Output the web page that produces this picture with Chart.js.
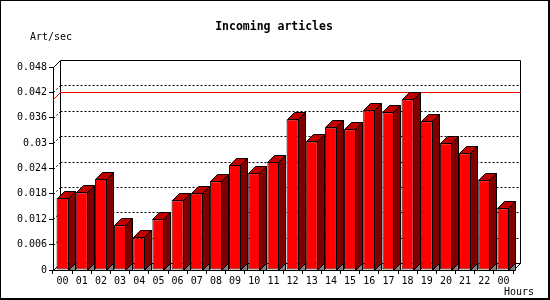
<!DOCTYPE html>
<html>
<head>
<meta charset="utf-8">
<script src="https://cdn.jsdelivr.net/npm/chart.js@4/dist/chart.umd.min.js"></script>
<style>
  body { margin: 0; background: #fff; }
  canvas { display: block; }
</style>
</head>
<body>
<canvas id="articles-chart" width="550" height="300"></canvas>
<script>
const hours = ["00", "01", "02", "03", "04", "05", "06", "07", "08", "09", "10", "11",
    "12", "13", "14", "15", "16", "17", "18", "19", "20", "21", "22", "00"]
const articlesPerSec = [0.0170, 0.0184, 0.0215, 0.0106, 0.0077, 0.0120, 0.0165, 0.0181,
    0.0210, 0.0248, 0.0229, 0.0256, 0.0356, 0.0304, 0.0337, 0.0333,
    0.0378, 0.0373, 0.0404, 0.0352, 0.0300, 0.0276, 0.0212, 0.0146]
const yTickValues = [0, 0.006, 0.012, 0.018, 0.024, 0.03, 0.036, 0.042, 0.048]

const FONT = "'DejaVu Sans Mono', monospace"
const depth = 7

function formatTick(value) {
    return String(parseFloat(value.toFixed(3)))
}

function line(ctx, x1, y1, x2, y2) {
    ctx.beginPath()
    ctx.moveTo(x1, y1)
    ctx.lineTo(x2, y2)
    ctx.stroke()
}

function poly(ctx, pts, fill) {
    ctx.beginPath()
    ctx.moveTo(pts[0][0], pts[0][1])
    for (let i = 1; i < pts.length; i++) ctx.lineTo(pts[i][0], pts[i][1])
    ctx.closePath()
    ctx.fillStyle = fill
    ctx.fill()
    ctx.stroke()
}

// back wall, dashed grid, max line, bar tops/sides, frame and loose labels
const pseudo3d = {
    id: "pseudo3d",
    beforeDraw(chart) {
        const ctx = chart.ctx
        ctx.save()
        ctx.fillStyle = "#fff"
        ctx.fillRect(0, 0, chart.width, chart.height)
        ctx.restore()
    },
    beforeDatasetsDraw(chart) {
        const { ctx, chartArea: area, scales: { y } } = chart
        const left = Math.round(area.left) + 0.5
        const right = Math.round(area.right) + 0.5
        const top = Math.round(area.top) + 0.5
        const bottom = Math.round(area.bottom) + 0.5
        const wl = left + depth, wr = right + depth
        const wt = top - depth, wb = bottom - depth
        ctx.save()
        ctx.lineWidth = 1
        ctx.strokeStyle = "#000"
        // back wall outline
        line(ctx, wl, wt, wr, wt)
        line(ctx, wl, wt, wl, wb)
        line(ctx, wr, wt, wr, wb)
        line(ctx, wl, wb, wr, wb)
        line(ctx, left, top, wl, wt)
        line(ctx, left, bottom, wl, wb)
        line(ctx, right, bottom, wr, wb)
        // dashed grid on the back wall
        ctx.setLineDash([2, 2])
        yTickValues.forEach(v => {
            if (v === 0 || v === yTickValues[yTickValues.length - 1]) return
            const py = Math.round(y.getPixelForValue(v)) + 0.5
            line(ctx, wl, py - depth, wr, py - depth)
            line(ctx, left, py, wl, py - depth)
        })
        ctx.setLineDash([])
        // maximum line
        const peak = Math.max(...articlesPerSec)
        const my = Math.round(y.getPixelForValue(peak)) + 0.5
        ctx.strokeStyle = "#ff0000"
        line(ctx, wl, my - depth, wr, my - depth)
        line(ctx, left, my, wl, my - depth)
        ctx.restore()
    },
    afterDatasetsDraw(chart) {
        const ctx = chart.ctx
        const bars = chart.getDatasetMeta(0).data
        ctx.save()
        ctx.lineWidth = 1
        ctx.strokeStyle = "#000"
        bars.forEach(bar => {
            const L = Math.round(bar.x - bar.width / 2) + 0.5
            const R = Math.round(bar.x + bar.width / 2) - 0.5
            const T = Math.round(bar.y) + 0.5
            const B = Math.round(bar.base) + 0.5
            poly(ctx, [[R, B], [R + depth, B - depth], [R + depth, B]], "#808080")
            poly(ctx, [[L, T], [L + depth, T - depth], [R + depth, T - depth], [R, T]], "#c00000")
            poly(ctx, [[R, T], [R + depth, T - depth], [R + depth, B - depth], [R, B]], "#800000")
        })
        ctx.restore()
    },
    afterDraw(chart) {
        const ctx = chart.ctx
        ctx.save()
        ctx.fillStyle = "#000"
        ctx.textBaseline = "middle"
        ctx.textAlign = "center"
        ctx.font = "bold 11.5px " + FONT
        ctx.fillText("Incoming articles", 274, 27)
        ctx.font = "10px " + FONT
        ctx.textAlign = "left"
        ctx.fillText("Art/sec", 30, 37)
        ctx.textAlign = "right"
        ctx.fillText("Hours", 534, 292)
        // image frame
        ctx.fillRect(0, 0, 550, 1)
        ctx.fillRect(0, 0, 1, 300)
        ctx.fillRect(548, 0, 2, 300)
        ctx.fillRect(0, 298, 550, 2)
        ctx.restore()
    }
}

const chart = new Chart(document.getElementById("articles-chart"), {
    type: "bar",
    data: {
        labels: hours,
        datasets: [{
            label: "Art/sec",
            data: articlesPerSec,
            backgroundColor: "#ff0000",
            borderColor: "#000",
            borderWidth: 1,
            borderSkipped: false,
            barPercentage: 0.63,
            categoryPercentage: 1,
        }],
    },
    options: {
        responsive: false,
        animation: false,
        events: [],
        layout: { padding: { top: 67, right: 37 } },
        scales: {
            x: {
                grid: { drawOnChartArea: false, color: "#000", tickLength: 4, offset: true },
                border: { color: "#000" },
                ticks: { color: "#000", font: { family: FONT, size: 10 }, padding: 1, autoSkip: false, maxRotation: 0 },
                afterFit: s => { s.height = 30 },
            },
            y: {
                min: 0,
                max: 0.048,
                afterBuildTicks: s => { s.ticks = yTickValues.map(v => ({ value: v })) },
                grid: { drawOnChartArea: false, color: "#000", tickLength: 4 },
                border: { color: "#000" },
                ticks: { color: "#000", font: { family: FONT, size: 10 }, padding: 2, callback: formatTick },
                afterFit: s => { s.width = 53 },
            },
        },
        plugins: {
            legend: { display: false },
            tooltip: { enabled: false },
        },
    },
    plugins: [pseudo3d],
})
</script>
</body>
</html>
